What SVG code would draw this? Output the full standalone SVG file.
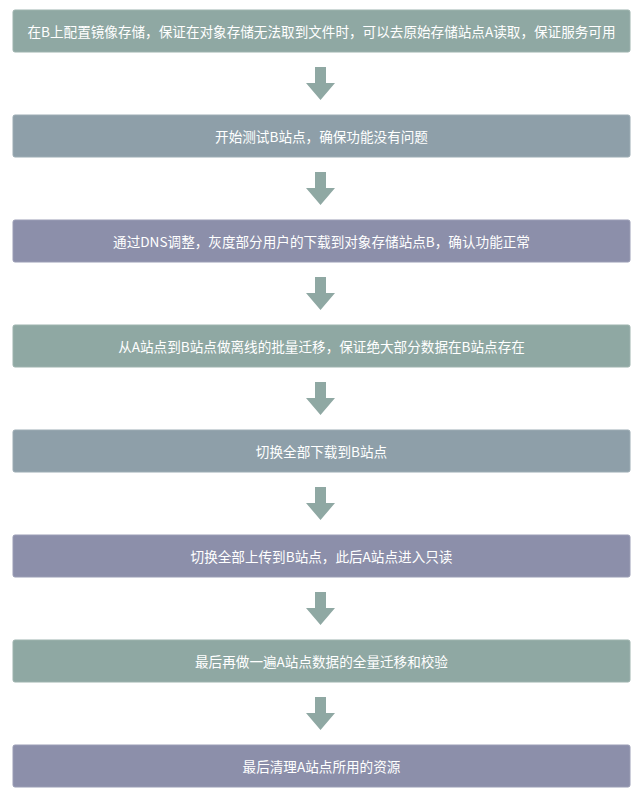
<svg xmlns="http://www.w3.org/2000/svg" width="642" height="800" viewBox="0 0 642 800">
<style>
.box{stroke-width:1;}
.g{fill:#8FA8A3;stroke:#9DB3AE;}
.b{fill:#8E9FA9;stroke:#9CACB4;}
.p{fill:#8C8FAA;stroke:#9A9DB5;}
.t{fill:#FFFFFF;font-family:"Noto Sans CJK SC","Noto Sans",sans-serif;font-size:13.6px;text-anchor:middle;dominant-baseline:central;}
.arr{fill:#8FA8A3;}
</style>
<defs>
<path id="arrow" d="M315,0 H326 V16 H335 L320.5,33 L306,16 H315 Z"/>
</defs>
<rect width="642" height="800" fill="#FFFFFF"/>
<g id="node1"><rect class="box g" x="13" y="10" width="617" height="42" rx="2"/><text class="t" x="321.5" y="31">在B上配置镜像存储，保证在对象存储无法取到文件时，可以去原始存储站点A读取，保证服务可用</text></g>
<g id="node2"><rect class="box b" x="13" y="115" width="617" height="42" rx="2"/><text class="t" x="321.5" y="136">开始测试B站点，确保功能没有问题</text></g>
<g id="node3"><rect class="box p" x="13" y="220" width="617" height="42" rx="2"/><text class="t" x="321.5" y="241">通过DNS调整，灰度部分用户的下载到对象存储站点B，确认功能正常</text></g>
<g id="node4"><rect class="box g" x="13" y="325" width="617" height="42" rx="2"/><text class="t" x="321.5" y="346">从A站点到B站点做离线的批量迁移，保证绝大部分数据在B站点存在</text></g>
<g id="node5"><rect class="box b" x="13" y="430" width="617" height="42" rx="2"/><text class="t" x="321.5" y="451">切换全部下载到B站点</text></g>
<g id="node6"><rect class="box p" x="13" y="535" width="617" height="42" rx="2"/><text class="t" x="321.5" y="556">切换全部上传到B站点，此后A站点进入只读</text></g>
<g id="node7"><rect class="box g" x="13" y="640" width="617" height="42" rx="2"/><text class="t" x="321.5" y="661">最后再做一遍A站点数据的全量迁移和校验</text></g>
<g id="node8"><rect class="box p" x="13" y="745" width="617" height="42" rx="2"/><text class="t" x="321.5" y="766">最后清理A站点所用的资源</text></g>
<g id="connectors" class="arr">
<use href="#arrow" y="67"/>
<use href="#arrow" y="172"/>
<use href="#arrow" y="277"/>
<use href="#arrow" y="382"/>
<use href="#arrow" y="487"/>
<use href="#arrow" y="592"/>
<use href="#arrow" y="697"/>
</g>
</svg>
